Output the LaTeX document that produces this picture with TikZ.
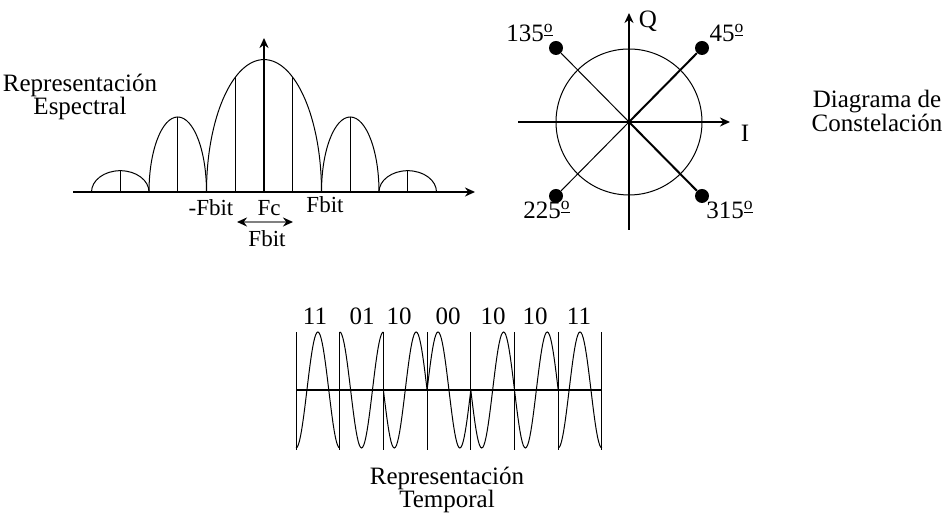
\documentclass[tikz,border=0pt]{standalone}
\usepackage{fontspec}
\setmainfont{Liberation Serif}
\usetikzlibrary{arrows.meta}

\newcommand{\grado}{\textsuperscript{\underline{o}}}

\begin{document}
\begin{tikzpicture}[
  x=0.5pt, y=0.5pt,
  font=\fontsize{12.5}{11.8}\selectfont,
  axis/.style={line width=1pt, -{Stealth[length=5pt,width=4.5pt]}},
  bwarrow/.style={draw=gray, line width=1pt,
    {Stealth[color=black,length=5pt,width=4.5pt]}-{Stealth[color=black,length=5pt,width=4.5pt]}},
  lobe/.style={line width=0.5pt},
  wave/.style={line width=0.5pt},
  bitline/.style={line width=0.5pt},
  phasor/.style={line width=0.5pt},
  phasorthick/.style={line width=1pt},
  symdot/.style={circle, fill=black, inner sep=0pt, minimum size=7pt},
  freqlabel/.style={font=\fontsize{11.5}{12}\selectfont},
  caption/.style={align=center}
]
\useasboundingbox (0,0) rectangle (950,522);

% ---------- one lobe of the spectrum ----------
\newcommand{\placeLobe}[3]{% #1 = centre, #2 = half width, #3 = height
  \draw[lobe] ({#1-#2},\Ax) arc[start angle=180, end angle=0, x radius=#2, y radius=#3];
  \draw[lobe] (#1,\Ax) -- (#1,{\Ax+#3});
}

% Spectrum geometry
\def\Fc{264}
\def\Fb{57.5}
\def\Ax{330}

% =========================================================
% SPECTRUM
% =========================================================
\coordinate (sL) at (73,\Ax);
\coordinate (sR) at (475,\Ax);
\coordinate (sB) at (\Fc,\Ax);
\coordinate (sT) at (\Fc,484);
\draw[axis] (sL) -- (sR);
\draw[axis] (sB) -- (sT);

% main lobe
\draw[lobe] ({\Fc-\Fb},\Ax) arc[start angle=180, end angle=0, x radius=\Fb, y radius=132.4];
\draw[lobe] ({\Fc-\Fb/2},\Ax) -- ({\Fc-\Fb/2},{\Ax+114.7});
\draw[lobe] ({\Fc+\Fb/2},\Ax) -- ({\Fc+\Fb/2},{\Ax+114.7});

% side lobes
\placeLobe{\Fc-1.5*\Fb}{\Fb/2}{75}
\placeLobe{\Fc+1.5*\Fb}{\Fb/2}{75}
\placeLobe{\Fc-2.5*\Fb}{\Fb/2}{21.3}
\placeLobe{\Fc+2.5*\Fb}{\Fb/2}{21.3}

\node[freqlabel] (fneg) at (211,314) {-Fbit};
\node[freqlabel] (fc)   at (269,314) {Fc};
\node[freqlabel] (fpos) at (325,317) {Fbit};

\coordinate (bwL) at (237,300);
\coordinate (bwR) at (293,300);
\draw[bwarrow] (bwL) -- (bwR);
\node[freqlabel] (fbw) at (267,283) {Fbit};

\node[caption] (spectral) at (80,425) {Representación\\Espectral};

% =========================================================
% CONSTELLATION
% =========================================================
\coordinate (cO) at (629,400);
\coordinate (iL) at (518,400);
\coordinate (iR) at (730,400);
\coordinate (qB) at (629,292);
\coordinate (qT) at (629,509);

\draw[phasor] (cO) circle[radius=73];
\draw[axis] (iL) -- (iR);
\draw[axis] (qB) -- (qT);

\node[symdot] (p45)  at (702,474) {};
\node[symdot] (p135) at (556,474) {};
\node[symdot] (p225) at (556,326) {};
\node[symdot] (p315) at (702,326) {};

\draw[phasorthick] (cO) -- (p45);
\draw[phasorthick] (cO) -- (p315);
\draw[phasor] (cO) -- (p135);
\draw[phasor] (cO) -- (p225);

\node (l135) at (530,489) {135\grado};
\node (l45)  at (727,489) {45\grado};
\node (l225) at (547,312) {225\grado};
\node (l315) at (730,312) {315\grado};
\node (lq) at (648,501) {Q};
\node (li) at (745,389) {I};

\node[caption] (constel) at (877,411) {Diagrama de\\Constelación};

% =========================================================
% TIME SIGNAL
% =========================================================
\def\Xo{296}
\def\Tb{43.7}
\def\Wy{132}
\def\Amp{58}

\coordinate (wL) at (\Xo,\Wy);
\coordinate (wR) at ({\Xo+7*\Tb},\Wy);
\draw[line width=1pt] (wL) -- (wR);

% bit boundaries
\foreach \k in {0,...,7}
  \draw[bitline] ({\Xo+\k*\Tb},72) -- ({\Xo+\k*\Tb},190);

% 11 -> -cos, 01 -> cos, 10 -> -sin, 00 -> sin
\draw[wave] plot[domain=0:1, samples=41] ({\Xo+0*\Tb+\x*\Tb},{\Wy-\Amp*cos(360*\x)});
\draw[wave] plot[domain=0:1, samples=41] ({\Xo+1*\Tb+\x*\Tb},{\Wy+\Amp*cos(360*\x)});
\draw[wave] plot[domain=0:1, samples=41] ({\Xo+2*\Tb+\x*\Tb},{\Wy-\Amp*sin(360*\x)});
\draw[wave] plot[domain=0:1, samples=41] ({\Xo+3*\Tb+\x*\Tb},{\Wy+\Amp*sin(360*\x)});
\draw[wave] plot[domain=0:1, samples=41] ({\Xo+4*\Tb+\x*\Tb},{\Wy-\Amp*sin(360*\x)});
\draw[wave] plot[domain=0:1, samples=41] ({\Xo+5*\Tb+\x*\Tb},{\Wy-\Amp*sin(360*\x)});
\draw[wave] plot[domain=0:1, samples=41] ({\Xo+6*\Tb+\x*\Tb},{\Wy-\Amp*cos(360*\x)});

\node (b1) at (315,206) {11};
\node (b2) at (362,206) {01};
\node (b3) at (399,206) {10};
\node (b4) at (448,206) {00};
\node (b5) at (493,206) {10};
\node (b6) at (535,206) {10};
\node (b7) at (579,206) {11};

\node[caption] (temporal) at (447,32) {Representación\\Temporal};
\end{tikzpicture}
\end{document}
